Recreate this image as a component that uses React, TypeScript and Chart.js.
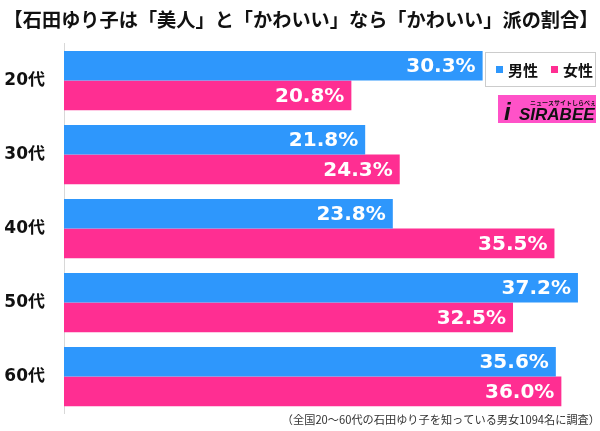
import React, { useEffect, useRef } from "react";
import { Chart, registerables } from "chart.js";

Chart.register(...registerables);

const titleText = "【石田ゆり子は「美人」と「かわいい」なら「かわいい」派の割合】";
const footnoteText = "（全国20～60代の石田ゆり子を知っている男女1094名に調査）";
const categories = ["20代", "30代", "40代", "50代", "60代"];
const maleValues = [30.3, 21.8, 23.8, 37.2, 35.6];
const femaleValues = [20.8, 24.3, 35.5, 32.5, 36.0];
const seriesNames = ["男性", "女性"];
const BLUE = "#2e97fc";
const PINK = "#ff2e92";

const overlayPlugin = {
  id: "overlay",
  afterDatasetsDraw(chart: any) {
    const ctx = chart.ctx as CanvasRenderingContext2D;
    ctx.save();
    ctx.font = "bold 20px 'DejaVu Sans'";
    ctx.fillStyle = "#ffffff";
    ctx.textAlign = "right";
    ctx.textBaseline = "middle";
    chart.data.datasets.forEach((ds: any, di: number) => {
      const meta = chart.getDatasetMeta(di);
      meta.data.forEach((bar: any, i: number) => {
        const v = ds.data[i] as number;
        ctx.fillText(v.toFixed(1) + "%", bar.x - 7, bar.y + 1);
      });
    });
    ctx.restore();
  },
  afterDraw(chart: any) {
    const ctx = chart.ctx as CanvasRenderingContext2D;
    ctx.save();
    // title
    ctx.font = "bold 19.2px 'Noto Sans CJK JP'";
    ctx.fillStyle = "#111111";
    ctx.textAlign = "center";
    ctx.textBaseline = "middle";
    ctx.fillText(titleText, 301, 20);

    // footnote
    ctx.font = "11.2px 'Noto Sans CJK JP'";
    ctx.fillStyle = "#333333";
    ctx.textAlign = "right";
    ctx.fillText(footnoteText, 600, 420);

    // legend
    ctx.fillStyle = "#ffffff";
    ctx.fillRect(485.5, 52.5, 110, 34);
    ctx.strokeStyle = "#cccccc";
    ctx.lineWidth = 1;
    ctx.strokeRect(485.5, 52.5, 110, 34);
    ctx.font = "bold 15px 'Noto Sans CJK JP'";
    ctx.textAlign = "left";
    const xs = [496, 551];
    chart.data.datasets.forEach((ds: any, di: number) => {
      ctx.fillStyle = ds.backgroundColor;
      ctx.fillRect(xs[di], 66, 7, 7);
      ctx.fillStyle = "#111111";
      ctx.fillText(ds.label, xs[di] + 12, 70);
    });

    // logo
    ctx.fillStyle = "#ff52c8";
    ctx.fillRect(498, 95, 98, 28);
    ctx.fillStyle = "#111111";
    ctx.textAlign = "left";
    ctx.textBaseline = "alphabetic";
    ctx.font = "italic bold 17px 'Liberation Sans'";
    ctx.fillText("SIRABEE", 519, 120);
    ctx.font = "italic bold 24px 'Liberation Sans'";
    ctx.fillText("i", 504, 120);
    ctx.font = "bold 6px 'Noto Sans CJK JP'";
    ctx.fillText("ニュースサイトしらべぇ", 530, 105);
    ctx.restore();
  },
};

export default function App() {
  const ref = useRef<HTMLCanvasElement>(null);
  useEffect(() => {
    document.body.style.margin = "0";
    const chart = new Chart(ref.current!, {
      type: "bar",
      data: {
        labels: categories,
        datasets: [
          { label: seriesNames[0], data: maleValues, backgroundColor: BLUE, borderWidth: 0 },
          { label: seriesNames[1], data: femaleValues, backgroundColor: PINK, borderWidth: 0 },
        ],
      },
      options: {
        indexAxis: "y",
        responsive: false,
        animation: false,
        layout: { padding: { top: 43.6, bottom: 17.4, right: 11, left: 0 } },
        datasets: { bar: { categoryPercentage: 0.8, barPercentage: 1 } },
        plugins: { legend: { display: false }, tooltip: { enabled: false }, title: { display: false } },
        scales: {
          x: { display: false, min: 0, max: 38 },
          y: {
            afterFit: (s: any) => {
              s.width = 64;
              s.paddingTop = 0;
              s.paddingBottom = 0;
            },
            grid: { display: false, drawTicks: false },
            border: { display: true, color: "#d8d8d8", width: 1 },
            ticks: {
              padding: 19,
              color: "#111111",
              font: { family: "'DejaVu Sans', 'Noto Sans CJK JP'", size: 17, weight: "bold" },
            },
          },
        },
      } as any,
      plugins: [overlayPlugin],
    });
    return () => chart.destroy();
  }, []);
  return (
    <div style={{ width: 600, height: 431 }}>
      <canvas ref={ref} width={600} height={431} />
    </div>
  );
}
